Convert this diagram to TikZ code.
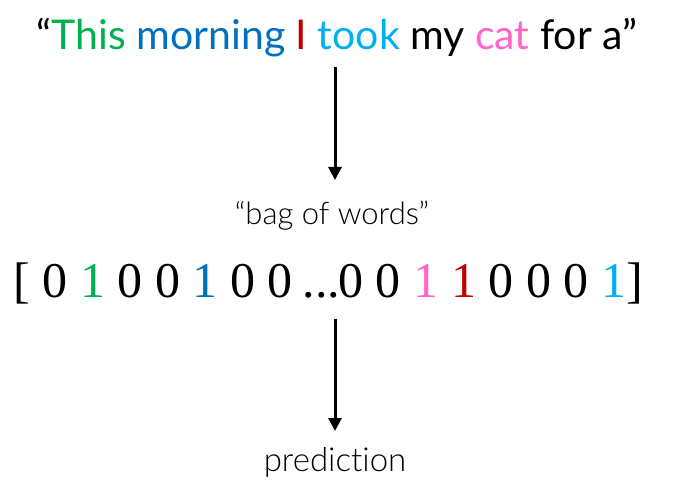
\documentclass[tikz,border=0pt]{standalone}
\usepackage{fontspec}
\setmainfont{Lato}
\newfontfamily\lightfont[Ligatures={TeX,NoCommon}]{Lato Light}
\newfontfamily\vecfont{Liberation Serif}
\usetikzlibrary{arrows.meta}
\definecolor{cgreen}{HTML}{00B050}
\definecolor{cblue}{HTML}{0070C0}
\definecolor{cred}{HTML}{C00000}
\definecolor{ccyan}{HTML}{00B0F0}
\definecolor{cpink}{HTML}{FF66CC}
\begin{document}
\begin{tikzpicture}[x=1pt,y=1pt,
  txt/.style={anchor=base,inner sep=0pt},
  arr/.style={line width=3pt,-{Triangle[width=13pt,length=13pt]}}]
\useasboundingbox (0,0) rectangle (674,498);
\node[txt,font=\fontsize{41}{42}\selectfont] (top) at (337,448)
  {“\textcolor{cgreen}{This} \textcolor{cblue}{morning} \textcolor{cred}{I} \textcolor{ccyan}{took} my \textcolor{cpink}{cat} for a”};
\node[txt,font=\lightfont\fontsize{31}{32}\selectfont] (bow) at (332,273) {“bag of words”};
\node[txt,font=\vecfont\fontsize{50}{52}\selectfont] (vec) at (328,200)
  {[ 0 \textcolor{cgreen}{1} 0 0 \textcolor{cblue}{1} 0 0 \kern-2pt...\kern-2pt 0 0 \textcolor{cpink}{1} \textcolor{cred}{1} 0 0 0 \textcolor{ccyan}{1}]};
\node[txt,font=\lightfont\fontsize{33}{34}\selectfont] (pred) at (335,27) {prediction};
\coordinate (ax) at (335,0);
\draw[arr,shorten <=17pt,shorten >=45pt] (top.base -| ax) -- (bow.base -| ax);
\draw[arr,shorten <=21pt,shorten >=40pt] (vec.base -| ax) -- (pred.base -| ax);
\end{tikzpicture}
\end{document}
